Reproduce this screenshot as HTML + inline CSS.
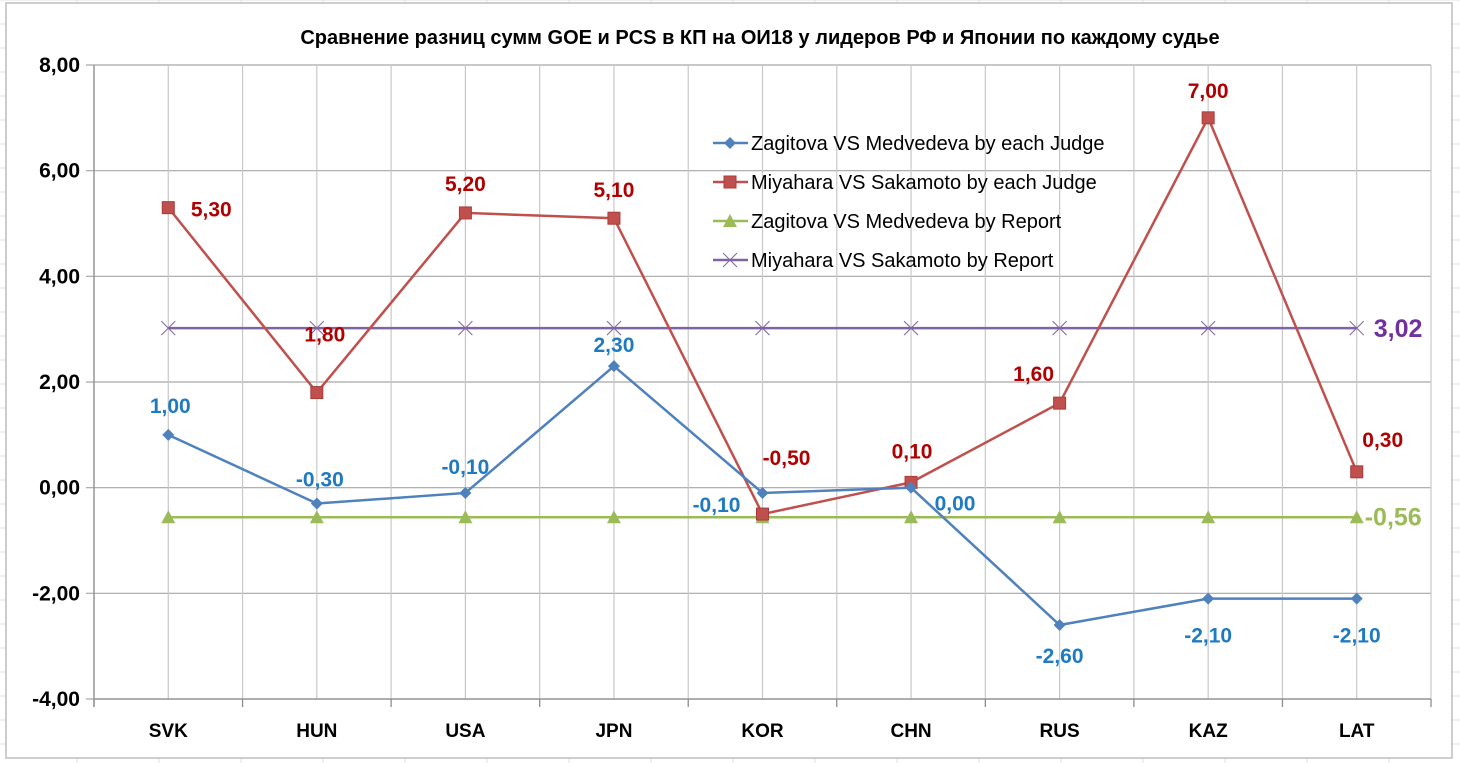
<!DOCTYPE html>
<html><head><meta charset="utf-8"><style>
html,body{margin:0;padding:0;background:#fff;}
svg{display:block;font-family:"Liberation Sans",sans-serif;}
</style></head><body>
<svg id="chart" width="1460" height="763" viewBox="0 0 1460 763">
<g id="bg"></g>
<rect x="6" y="3" width="1446" height="755" fill="#fff" stroke="#bdbdbd" stroke-width="1.5"/>
<text x="760" y="44" text-anchor="middle" font-size="20" font-weight="bold" fill="#000">Сравнение разниц сумм GOE и PCS в КП на ОИ18 у лидеров РФ и Японии по каждому судье</text>
<g id="grid"></g>
<g id="axes"></g>
<g id="series"></g>
<g id="labels"></g>
<g id="legend"></g>
</svg>
<script>
const categories = ["SVK","HUN","USA","JPN","KOR","CHN","RUS","KAZ","LAT"];
const zagitovaJudge = [1.00,-0.30,-0.10,2.30,-0.10,0.00,-2.60,-2.10,-2.10];
const miyaharaJudge = [5.30,1.80,5.20,5.10,-0.50,0.10,1.60,7.00,0.30];
const zagitovaReport = [-0.56,-0.56,-0.56,-0.56,-0.56,-0.56,-0.56,-0.56,-0.56];
const miyaharaReport = [3.02,3.02,3.02,3.02,3.02,3.02,3.02,3.02,3.02];
const yTicks = [-4,-2,0,2,4,6,8];

const NS="http://www.w3.org/2000/svg";
const L=94,R=1431,T=65,B=699,yMin=-4,yMax=8;
const step=(R-L)/categories.length;
const x=i=>L+step*(i+0.5);
const y=v=>B-(v-yMin)/(yMax-yMin)*(B-T);
function mk(tag,attrs,parent){const e=document.createElementNS(NS,tag);for(const k in attrs)e.setAttribute(k,attrs[k]);parent.appendChild(e);return e;}
const fmt=v=>v.toFixed(2).replace('.',',');

const bg=document.getElementById('bg');
for(let yy=0;yy<763;yy+=24){const l=mk('line',{x1:0,x2:1460,y1:yy,y2:yy,stroke:'#e2e2e2'},bg);}
for(let xx=77;xx<1460;xx+=82){const l=mk('line',{x1:xx,x2:xx,y1:0,y2:763,stroke:'#e2e2e2'},bg);}

const grid=document.getElementById('grid');
yTicks.forEach(t=>{const l=mk('line',{x1:L-8,x2:R,y1:y(t),y2:y(t),stroke:'#a6a6a6','stroke-width':1.2},grid);
});
for(let i=0;i<=categories.length*2;i++){const xx=L+step*i/2;const l=mk('line',{x1:xx,x2:xx,y1:T,y2:B,stroke:'#c8c8c8','stroke-width':1.2},grid);
}

const axes=document.getElementById('axes');
mk('line',{x1:L,x2:L,y1:T,y2:B+8,stroke:'#8c8c8c','stroke-width':1.3},axes);
mk('line',{x1:L,x2:R,y1:B,y2:B,stroke:'#8c8c8c','stroke-width':1.3},axes);
for(let i=0;i<=categories.length;i++){const xx=L+step*i;mk('line',{x1:xx,x2:xx,y1:B,y2:B+8,stroke:'#8c8c8c','stroke-width':1.3},axes);}
yTicks.forEach(t=>{const tx=mk('text',{x:L-14,y:y(t)+7,'text-anchor':'end','font-size':21,'font-weight':'bold',fill:'#000'},axes);tx.textContent=fmt(t);
});
categories.forEach((c,i)=>{const tx=mk('text',{x:x(i),y:737,'text-anchor':'middle','font-size':19,'font-weight':'bold',fill:'#000'},axes);tx.textContent=c;
});

const S=document.getElementById('series');
function marker(kind,cx,cy,color,g){
 if(kind==='diamond')return mk('polygon',{points:`${cx},${cy-6} ${cx+6},${cy} ${cx},${cy+6} ${cx-6},${cy}`,fill:color},g);
 if(kind==='square')return mk('rect',{x:cx-6,y:cy-6,width:12,height:12,fill:'#c0504d',stroke:'#a83c39'},g);
 if(kind==='triangle')return mk('polygon',{points:`${cx},${cy-7} ${cx+7},${cy+6} ${cx-7},${cy+6}`,fill:color},g);
 const gg=mk('g',{stroke:color,'stroke-width':1},g);
 mk('line',{x1:cx-7,y1:cy-7,x2:cx+7,y2:cy+7},gg);mk('line',{x1:cx-7,y1:cy+7,x2:cx+7,y2:cy-7},gg);return gg;
}
const seriesDefs=[
 {vals:zagitovaReport,color:'#9bbb59',kind:'triangle',name:'zagitova-report-series'},
 {vals:miyaharaReport,color:'#8064a2',kind:'x',name:'miyahara-report-series'},
 {vals:miyaharaJudge,color:'#c0504d',kind:'square',name:'miyahara-judge-series'},
 {vals:zagitovaJudge,color:'#4f81bd',kind:'diamond',name:'zagitova-judge-series'}];
seriesDefs.forEach(s=>{
 const g=mk('g',{},S);
 const p=mk('polyline',{points:s.vals.map((v,i)=>x(i)+','+y(v)).join(' '),fill:'none',stroke:s.color,'stroke-width':2.5},g);
 
 s.vals.forEach((v,i)=>{const m=marker(s.kind,x(i),y(v),s.color,g);});
});

const blueOff=[[2,-29],[3,-24],[0,-26],[0,-21],[-46,12],[44,16],[0,31],[0,37],[0,37]];
const redOff=[[43,2],[8,-58],[0,-29],[0,-28],[24,-56],[1,-31],[-26,-29],[0,-27],[26,-32]];
const LG=document.getElementById('labels');
function lab(txt,xx,yy,color,anchor,name){const t=mk('text',{x:xx,y:yy+7,'text-anchor':anchor||'middle','font-size':21,'font-weight':'bold',fill:color},LG);t.textContent=txt;
}
zagitovaJudge.forEach((v,i)=>lab(fmt(v),x(i)+blueOff[i][0],y(v)+blueOff[i][1],'#1f7ac0','middle','zagitova-judge-label'));
miyaharaJudge.forEach((v,i)=>lab(fmt(v),x(i)+redOff[i][0],y(v)+redOff[i][1],'#b00000','middle','miyahara-judge-label'));
const n=categories.length-1;
(function(){const t=mk('text',{x:x(n)+17,y:y(miyaharaReport[n])+9,'font-size':25,'font-weight':'bold',fill:'#7030a0'},LG);t.textContent=fmt(miyaharaReport[n]);

const u=mk('text',{x:x(n)+8,y:y(zagitovaReport[n])+8,'font-size':25,'font-weight':'bold',fill:'#9bbb59'},LG);u.textContent=fmt(zagitovaReport[n]);
})();

const LEG=document.getElementById('legend');
const legItems=[['Zagitova VS Medvedeva by each Judge','#4f81bd','diamond'],['Miyahara VS Sakamoto by each Judge','#c0504d','square'],['Zagitova VS Medvedeva by Report','#9bbb59','triangle'],['Miyahara VS Sakamoto by Report','#8064a2','x']];
legItems.forEach((it,k)=>{const ly=143+k*39;const g=mk('g',{},LEG);
 mk('line',{x1:713,x2:748,y1:ly,y2:ly,stroke:it[1],'stroke-width':2.5},g);marker(it[2],730,ly,it[1],g);
 const t=mk('text',{x:751,y:ly+7,'font-size':20,fill:'#000'},g);t.textContent=it[0];});
</script>
</body></html>
